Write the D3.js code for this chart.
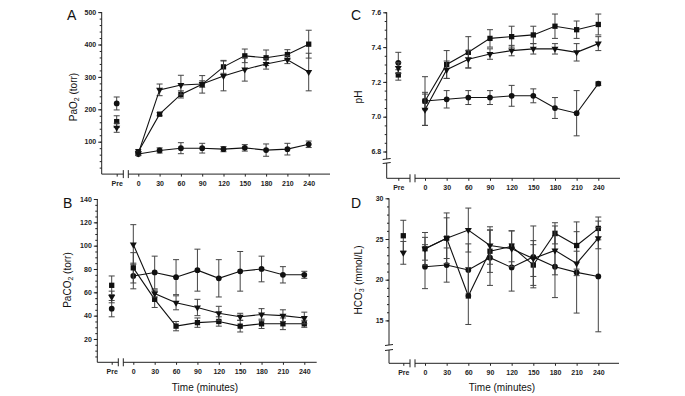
<!DOCTYPE html>
<html>
<head>
<meta charset="utf-8">
<script src="https://cdn.jsdelivr.net/npm/d3@7"></script>
<style>
	body { margin: 0; background: #fff; }
	svg { display: block; }
	.tick text { font-family: "Liberation Sans", Arial, sans-serif; font-weight: bold; font-size: 7px; fill: #222; }
	.tick line { stroke: #222; }
	.title { font-family: "Liberation Sans", Arial, sans-serif; font-size: 10px; fill: #111; }
	.letter { font-family: "Liberation Sans", Arial, sans-serif; font-size: 14px; fill: #111; }
</style>
</head>
<body>
<svg id="chart" width="685" height="396"></svg>
<script>
// x categories: Pre, then minutes
var times = [0, 30, 60, 90, 120, 150, 180, 210, 240];
var xLabels = ['Pre', '0', '30', '60', '90', '120', '150', '180', '210', '240'];

// values are [Pre, 0, 30, ... 240]
// A - PaO2 (torr)
var pao2Circle = [218, 62, 73, 80, 80, 77, 81, 74, 77, 92];
var pao2CircleErr = [20, 5, 8, 17, 15, 8, 10, 19, 18, 10];
var pao2Square = [162, 69, 185, 246, 277, 331, 365, 359, 369, 401];
var pao2SquareErr = [18, 7, 5, 11, 27, 20, 21, 24, 15, 43];
var pao2Tri = [143, 64, 260, 275, 278, 303, 323, 340, 353, 315];
var pao2TriErr = [14, 6, 18, 30, 10, 46, 36, 16, 12, 58];

// B - PaCO2 (torr)
var paco2Circle = [46, 74, 77, 73, 79, 72, 78, 80, 75, 75];
var paco2CircleErr = [7, 11, 14, 15, 18, 16, 17, 11, 7, 3];
var paco2Square = [66, 81, 54, 31, 34, 35, 31, 33, 33, 33];
var paco2SquareErr = [8, 13, 7, 4, 4, 4, 5, 4, 5, 3];
var paco2Tri = [56, 101, 59, 51, 47, 42, 39, 41, 40, 38];
var paco2TriErr = [5, 17, 3, 6, 7, 6, 3, 5, 5, 5];

// C - pH
var phCircle = [7.31, 7.09, 7.10, 7.11, 7.11, 7.12, 7.12, 7.05, 7.02, 7.19];
var phCircleErr = [0.06, 0.14, 0.05, 0.04, 0.04, 0.06, 0.04, 0.06, 0.13, 0.01];
var phSquare = [7.24, 7.09, 7.30, 7.37, 7.45, 7.46, 7.47, 7.52, 7.50, 7.53];
var phSquareErr = [0.03, 0.05, 0.08, 0.09, 0.05, 0.06, 0.05, 0.07, 0.05, 0.06];
var phTri = [7.28, 7.04, 7.27, 7.33, 7.36, 7.38, 7.39, 7.39, 7.37, 7.42];
var phTriErr = [0.03, 0.09, 0.05, 0.05, 0.03, 0.03, 0.03, 0.03, 0.05, 0.04];

// D - HCO3- (mmol/L)
var hco3Circle = [null, 21.6, 21.8, 21.2, 22.7, 21.5, 22.8, 21.6, 20.9, 20.4];
var hco3CircleErr = [null, 2.7, 2.1, 3.2, 3.4, 2.9, 3.8, 3.8, 5.0, 6.8];
var hco3Square = [25.4, 23.8, 25.1, 18.0, 23.5, 24.1, 21.8, 25.7, 24.2, 26.3];
var hco3SquareErr = [1.9, 2.0, 3.1, 3.5, 2.6, 1.9, 2.5, 1.3, 2.9, 1.4];
var hco3Tri = [23.3, 23.8, 25.1, 26.1, 24.2, 23.8, 22.6, 23.6, 22.0, 25.1];
var hco3TriErr = [1.4, 1.4, 2.5, 2.7, 2.3, 2.2, 2.2, 3.0, 1.5, 1.3];

var yTicksA = [100, 200, 300, 400, 500];
var yTicksB = [20, 40, 60, 80, 100, 120, 140];
var yTicksC = [6.8, 7.0, 7.2, 7.4, 7.6];
var yTicksD = [15, 20, 25, 30];

var svg = d3.select('#chart');

var panels = [
	{
		letter: 'A', letterX: 67, letterY: 20,
		left: 101.7, right: 330, x0: 138.3, x240: 308.7, preX: 116.7,
		yDomain: [0, 500], yRange: [174.1, 12.1], yTicks: yTicksA, minorStep: 20, yFmt: d3.format('d'),
		titleX: 73, titleY: 97, title: ['PaO', '2', null, ' (torr)'],
		series: [
			{shape: 'circle', v: pao2Circle, e: pao2CircleErr},
			{shape: 'square', v: pao2Square, e: pao2SquareErr},
			{shape: 'tri', v: pao2Tri, e: pao2TriErr}
		]
	},
	{
		letter: 'B', letterX: 63, letterY: 208,
		left: 97.3, right: 316.7, x0: 133.3, x240: 304.3, preX: 111.7,
		yDomain: [0, 140], yRange: [362.3, 199], yTicks: yTicksB, minorStep: 5, yFmt: d3.format('d'),
		titleX: 67, titleY: 280, title: ['PaCO', '2', null, ' (torr)'],
		xTitle: true,
		series: [
			{shape: 'circle', v: paco2Circle, e: paco2CircleErr},
			{shape: 'square', v: paco2Square, e: paco2SquareErr},
			{shape: 'tri', v: paco2Tri, e: paco2TriErr}
		]
	},
	{
		letter: 'C', letterX: 351, letterY: 20,
		left: 386.7, right: 620, x0: 425, x240: 598.3, preX: 398.3,
		yDomain: [6.646, 7.6], yRange: [178.3, 12.3], yTicks: yTicksC, minorStep: 0.05, yFmt: d3.format('.1f'),
		yBreak: [159, 163],
		titleX: 358, titleY: 97, title: ['pH', null, null, ''],
		series: [
			{shape: 'circle', v: phCircle, e: phCircleErr},
			{shape: 'square', v: phSquare, e: phSquareErr},
			{shape: 'tri', v: phTri, e: phTriErr}
		]
	},
	{
		letter: 'D', letterX: 351, letterY: 208,
		left: 389, right: 619, x0: 425, x240: 598.3, preX: 403.3,
		yDomain: [9.73, 30], yRange: [363.3, 198.3], yTicks: yTicksD, minorStep: 1, yFmt: d3.format('d'),
		yBreak: [345, 350],
		titleX: 358, titleY: 280, title: ['HCO', '3', '\u2212', ' (mmol/L)'],
		xTitle: true,
		series: [
			{shape: 'circle', v: hco3Circle, e: hco3CircleErr},
			{shape: 'square', v: hco3Square, e: hco3SquareErr},
			{shape: 'tri', v: hco3Tri, e: hco3TriErr}
		]
	}
];

var symbols = {
	circle: d3.symbol().type(d3.symbolCircle).size(26),
	square: d3.symbol().type(d3.symbolSquare).size(28),
	tri: d3.symbol().type(d3.symbolTriangle).size(21)
};

panels.forEach(function(p) {
	var g = svg.append('g');
	var x = d3.scaleLinear().domain([0, 240]).range([p.x0, p.x240]);
	var preSlot = x.invert(p.preX);
	var xVals = [preSlot].concat(times);
	var y = d3.scaleLinear().domain(p.yDomain).range(p.yRange);
	var bottom = p.yRange[0];

	//y axis line, with a gap for the break if needed
	if (p.yBreak) {
		g.append('line').attr('x1', p.left).attr('x2', p.left).attr('y1', y(p.yDomain[1])).attr('y2', p.yBreak[0]).attr('stroke', '#222');
		g.append('line').attr('x1', p.left).attr('x2', p.left).attr('y1', p.yBreak[1]).attr('y2', bottom).attr('stroke', '#222');
		p.yBreak.forEach(function(by) {
			g.append('line').attr('x1', p.left - 4).attr('x2', p.left + 4).attr('y1', by + 0.5).attr('y2', by - 0.5).attr('stroke', '#222');
		});
	} else {
		g.append('line').attr('x1', p.left).attr('x2', p.left).attr('y1', y(p.yDomain[1])).attr('y2', bottom).attr('stroke', '#222');
	}

	//minor ticks
	var top = p.yTicks[p.yTicks.length - 1];
	var minor = d3.range(p.yTicks[0], top + p.minorStep / 2, p.minorStep);
	if (!p.yBreak) minor = d3.range(p.minorStep, top + p.minorStep / 2, p.minorStep);
	var minorAxis = g.append('g').attr('transform', 'translate(' + p.left + ',0)')
		.call(d3.axisLeft(y).tickValues(minor).tickSize(2).tickFormat(''));
	minorAxis.select('.domain').remove();

	var yAxis = g.append('g').attr('transform', 'translate(' + p.left + ',0)')
		.call(d3.axisLeft(y).tickValues(p.yTicks).tickSize(3.5).tickPadding(2).tickFormat(p.yFmt));
	yAxis.select('.domain').remove();

	//x axis line with break between Pre and 0
	var b1 = p.x0 - 15, b2 = p.x0 - 10;
	g.append('line').attr('x1', p.left).attr('x2', b1).attr('y1', bottom).attr('y2', bottom).attr('stroke', '#222');
	g.append('line').attr('x1', b2).attr('x2', p.right).attr('y1', bottom).attr('y2', bottom).attr('stroke', '#222');
	[b1, b2].forEach(function(bx) {
		g.append('line').attr('x1', bx).attr('x2', bx).attr('y1', bottom - 4).attr('y2', bottom + 4).attr('stroke', '#222');
	});

	var xAxis = g.append('g').attr('transform', 'translate(0,' + bottom + ')')
		.call(d3.axisBottom(x).tickValues(xVals).tickSize(2.5).tickPadding(4)
			.tickFormat(function(d, i) { return xLabels[i]; }));
	xAxis.select('.domain').remove();

	//series
	p.series.forEach(function(s) {
		var pts = s.v.map(function(v, i) {
			return {x: xVals[i], v: v, e: s.e[i], i: i};
		}).filter(function(d) { return d.v != null; });

		var bars = g.append('g').attr('stroke', '#444').attr('stroke-width', 1);
		pts.forEach(function(d) {
			var cx = x(d.x);
			bars.append('line').attr('x1', cx).attr('x2', cx).attr('y1', y(d.v - d.e)).attr('y2', y(d.v + d.e));
			[d.v - d.e, d.v + d.e].forEach(function(ev) {
				bars.append('line').attr('x1', cx - 3).attr('x2', cx + 3).attr('y1', y(ev)).attr('y2', y(ev));
			});
		});

		var line = d3.line().x(function(d) { return x(d.x); }).y(function(d) { return y(d.v); });
		g.append('path').datum(pts.filter(function(d) { return d.i > 0; }))
			.attr('d', line).attr('fill', 'none').attr('stroke', '#111').attr('stroke-width', 1.1);

		g.selectAll(null).data(pts).enter().append('path')
			.attr('d', symbols[s.shape])
			.attr('transform', function(d) {
				var t = 'translate(' + x(d.x) + ',' + y(d.v) + ')';
				if (s.shape === 'tri') t += ' rotate(180)';
				return t;
			})
			.attr('fill', '#111');
	});

	//y title
	var t = g.append('text').attr('class', 'title')
		.attr('transform', 'translate(' + p.titleX + ',' + p.titleY + ') rotate(-90)')
		.attr('text-anchor', 'middle').attr('dy', '0.35em');
	t.append('tspan').text(p.title[0]);
	if (p.title[1]) t.append('tspan').attr('font-size', 7).attr('dy', 2.5).text(p.title[1]);
	if (p.title[2]) t.append('tspan').attr('font-size', 7).attr('dx', -3.5).attr('dy', -6).text(p.title[2]);
	if (p.title[1] || p.title[2]) t.append('tspan').attr('dy', p.title[2] ? 3.5 : -2.5).text(p.title[3]);
	else t.append('tspan').text(p.title[3]);

	if (p.xTitle) {
		g.append('text').attr('class', 'title')
			.attr('x', (p.left + p.right) / 2 - 2).attr('y', 391)
			.attr('text-anchor', 'middle').text('Time (minutes)');
	}

	g.append('text').attr('class', 'letter').attr('x', p.letterX).attr('y', p.letterY).text(p.letter);
});
</script>
</body>
</html>
